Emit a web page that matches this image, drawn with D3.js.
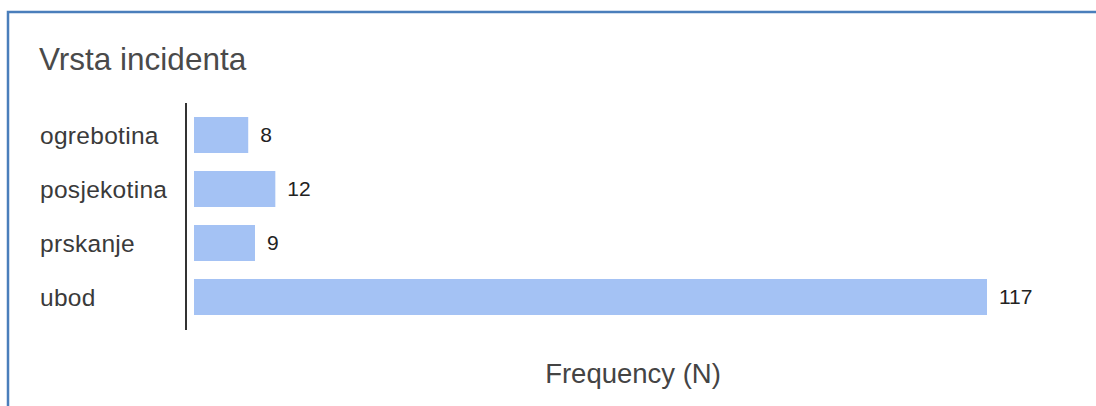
<!DOCTYPE html>
<html>
<head>
<meta charset="utf-8">
<script src="https://cdn.jsdelivr.net/npm/d3@7"></script>
<style>
  html, body { margin: 0; padding: 0; background: #fff; }
  svg { display: block; }
  text { font-family: Arial, "Liberation Sans", sans-serif; }
</style>
</head>
<body>
<svg id="chart" width="1096" height="406"></svg>
<script>
const title = "Vrsta incidenta";
const axisTitle = "Frequency (N)";
const categories = ["ogrebotina", "posjekotina", "prskanje", "ubod"];
const values = [8, 12, 9, 117];

const svg = d3.select("#chart");

// frame border (top and left visible)
svg.append("path")
  .attr("d", "M8,1200 L8,12 L1200,12")
  .attr("fill", "none")
  .attr("stroke", "#4a7ebb")
  .attr("stroke-width", 2.5);

const x = d3.scaleLinear().domain([0, 117]).range([194, 987]);
const y = d3.scaleBand().domain(categories).range([108, 324])
  .paddingInner(1/3).paddingOuter(1/6);

svg.append("text")
  .attr("x", 39).attr("y", 70)
  .attr("font-size", 31.5)
  .attr("fill", "#4a4a4a")
  .text(title);

const data = categories.map((c, i) => ({ c, v: values[i] }));

svg.selectAll("rect.bar").data(data).enter().append("rect")
  .attr("class", "bar")
  .attr("x", x(0))
  .attr("y", d => y(d.c))
  .attr("width", d => x(d.v) - x(0))
  .attr("height", y.bandwidth())
  .attr("fill", "#a4c2f4");

svg.selectAll("text.cat").data(data).enter().append("text")
  .attr("class", "cat")
  .attr("x", 40)
  .attr("y", d => y(d.c) + y.bandwidth() / 2)
  .attr("dy", "0.35em")
  .attr("font-size", 24.5)
  .attr("letter-spacing", 0.3)
  .attr("fill", "#3a3a3a")
  .text(d => d.c);

svg.selectAll("text.val").data(data).enter().append("text")
  .attr("class", "val")
  .attr("x", d => x(d.v) + 12)
  .attr("y", d => y(d.c) + y.bandwidth() / 2)
  .attr("dy", "0.35em")
  .attr("font-size", 21)
  .attr("fill", "#222")
  .text(d => d.v);

// vertical axis line
svg.append("line")
  .attr("x1", 186).attr("x2", 186)
  .attr("y1", 103).attr("y2", 330)
  .attr("stroke", "#333")
  .attr("stroke-width", 2);

svg.append("text")
  .attr("x", 633).attr("y", 383)
  .attr("text-anchor", "middle")
  .attr("font-size", 27.5)
  .attr("fill", "#444")
  .text(axisTitle);
</script>
</body>
</html>
